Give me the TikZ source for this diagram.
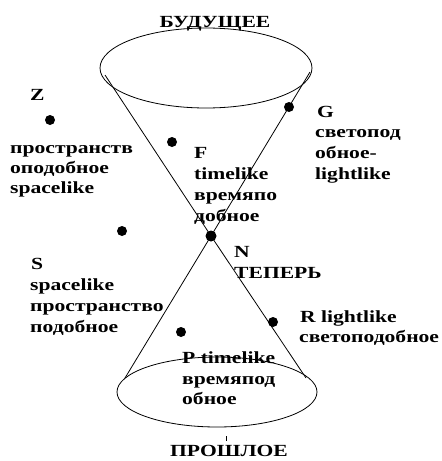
\documentclass[tikz,border=0pt]{standalone}
\usepackage{fontspec}
\setmainfont{Liberation Serif}[FakeStretch=1.27]
\begin{document}
\begin{tikzpicture}[x=1pt,y=-1pt,
  lbl/.style={anchor=base west,inner sep=0pt,font=\fontsize{17}{21}\selectfont\bfseries},
  ttl/.style={anchor=base,inner sep=0pt,font=\fontsize{17}{21}\selectfont\bfseries},
  pt/.style={circle,fill=black,inner sep=0pt,minimum size=10pt},
  edge/.style={draw=black,line width=0.8pt}]
\useasboundingbox (0,0) rectangle (442,461);
% cones
\draw[edge] (206,68) ellipse [x radius=106, y radius=40];
\draw[edge] (217,392) ellipse [x radius=100, y radius=35];
\coordinate (TL) at (105,75);
\coordinate (TR) at (310,72);
\coordinate (BL) at (125,378);
\coordinate (BR) at (306,378);
\node[pt,minimum size=11pt] (N) at (211,236) {};
\draw[edge] (TL) -- (N.center) -- (BR);
\draw[edge] (TR) -- (N.center) -- (BL);
% points
\node[pt] (Zp) at (50,120) {};
\node[pt] (Fp) at (172,142) {};
\node[pt] (Gp) at (289,107) {};
\node[pt] (Sp) at (122,231) {};
\node[pt] (Rp) at (273,322) {};
\node[pt] (Pp) at (181,332) {};
\coordinate (tk1) at (226,436);
\coordinate (tk2) at (226,441);
\draw[black,line width=0.8pt] (tk1) -- (tk2);
% titles
\node[ttl] (fut) at (215,27) {БУДУЩЕЕ};
\node[ttl] (past) at (229,456) {ПРОШЛОЕ};
% Z
\node[lbl] (z0) at (30,100) {Z};
\node[lbl] (z1) at (10,153) {пространств};
\node[lbl] (z2) at (10,173) {оподобное};
\node[lbl] (z3) at (10,193) {spacelike};
% F
\node[lbl] (f0) at (194,158) {F};
\node[lbl] (f1) at (194,179) {timelike};
\node[lbl] (f2) at (194,200) {времяпо};
\node[lbl] (f3) at (194,221) {добное};
% G
\node[lbl] (g0) at (317,117) {G};
\node[lbl] (g1) at (315,137) {светопод};
\node[lbl] (g2) at (315,158) {обное-};
\node[lbl] (g3) at (315,179) {lightlike};
% N
\node[lbl] (n0) at (234,257) {N};
\node[lbl] (n1) at (234,278) {ТЕПЕРЬ};
% S
\node[lbl] (s0) at (31,269) {S};
\node[lbl] (s1) at (30,290) {spacelike};
\node[lbl] (s2) at (30,311) {пространство};
\node[lbl] (s3) at (30,332) {подобное};
% R
\node[lbl] (r0) at (300,322) {R lightlike};
\node[lbl] (r1) at (299,342) {светоподобное};
% P
\node[lbl] (p0) at (182,363) {P timelike};
\node[lbl] (p1) at (182,384) {времяпод};
\node[lbl] (p2) at (182,404) {обное};
\end{tikzpicture}
\end{document}
